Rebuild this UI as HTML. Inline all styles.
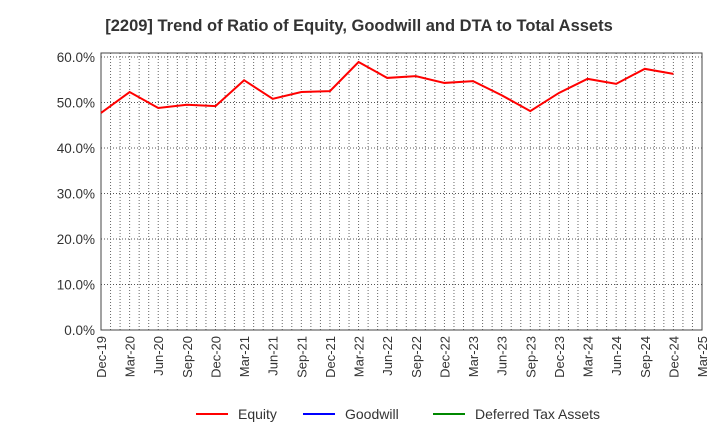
<!DOCTYPE html>
<html><head><meta charset="utf-8"><style>
body{margin:0;background:#fff;font-family:"Liberation Sans",sans-serif}
svg text{font-family:"Liberation Sans",sans-serif;fill:#333}
</style></head><body>
<svg id="c" width="720" height="440">
<text x="359" y="31" text-anchor="middle" font-size="16.5" font-weight="bold">[2209]  Trend of Ratio of Equity, Goodwill and DTA to Total Assets</text>
<g id="grid"></g><g id="axes"></g><g id="series"></g>
<g>
<line x1="196" y1="414" x2="228" y2="414" stroke="#f00" stroke-width="2"/><text x="238" y="419" font-size="14">Equity</text>
<line x1="303" y1="414" x2="335" y2="414" stroke="#00f" stroke-width="2"/><text x="345" y="419" font-size="14">Goodwill</text>
<line x1="433" y1="414" x2="465" y2="414" stroke="#080" stroke-width="2"/><text x="475" y="419" font-size="14">Deferred Tax Assets</text>
</g>
</svg>
<script>
const xLabels=["Dec-19","Mar-20","Jun-20","Sep-20","Dec-20","Mar-21","Jun-21","Sep-21","Dec-21","Mar-22","Jun-22","Sep-22","Dec-22","Mar-23","Jun-23","Sep-23","Dec-23","Mar-24","Jun-24","Sep-24","Dec-24","Mar-25"];
const yTicks=[0,10,20,30,40,50,60];
const equity=[47.7,52.3,48.8,49.5,49.2,54.9,50.8,52.3,52.5,58.9,55.4,55.8,54.3,54.7,51.6,48.1,52.1,55.2,54.1,57.4,56.3];
const L=101,R=702,T=53,B=330,NS="http://www.w3.org/2000/svg";
const x=i=>L+(R-L)*i/(xLabels.length-1);
const y=v=>B-(B-57)*v/60;
function mk(t,a,p){const e=document.createElementNS(NS,t);for(const k in a)e.setAttribute(k,a[k]);p.appendChild(e);return e;}
const g=document.getElementById('grid'),ax=document.getElementById('axes'),s=document.getElementById('series');
const months=(xLabels.length-1)*3;
for(let m=1;m<months;m++){const xx=L+(R-L)*m/months;const l=mk('line',{x1:xx,x2:xx,y1:T,y2:B,stroke:'#666','stroke-dasharray':'1,2','stroke-width':1},g);

}
yTicks.forEach(v=>{const l=mk('line',{x1:L,x2:R,y1:y(v),y2:y(v),stroke:'#555','stroke-dasharray':'1,2'},g);


const t=mk('text',{x:L-6,y:y(v)+5,'text-anchor':'end','font-size':13.5},ax);t.textContent=v.toFixed(1)+'%';

});
const f=mk('rect',{x:L,y:T,width:R-L,height:B-T,fill:'none',stroke:'#444'},ax);


xLabels.forEach((lab,i)=>{const t=mk('text',{transform:`translate(${x(i)+5},${B+6}) rotate(-90)`,'text-anchor':'end','font-size':13},ax);t.textContent=lab;

});
const p=mk('polyline',{points:equity.map((v,i)=>x(i)+','+y(v)).join(' '),fill:'none',stroke:'#f00','stroke-width':2},s);


</script>
</body></html>
